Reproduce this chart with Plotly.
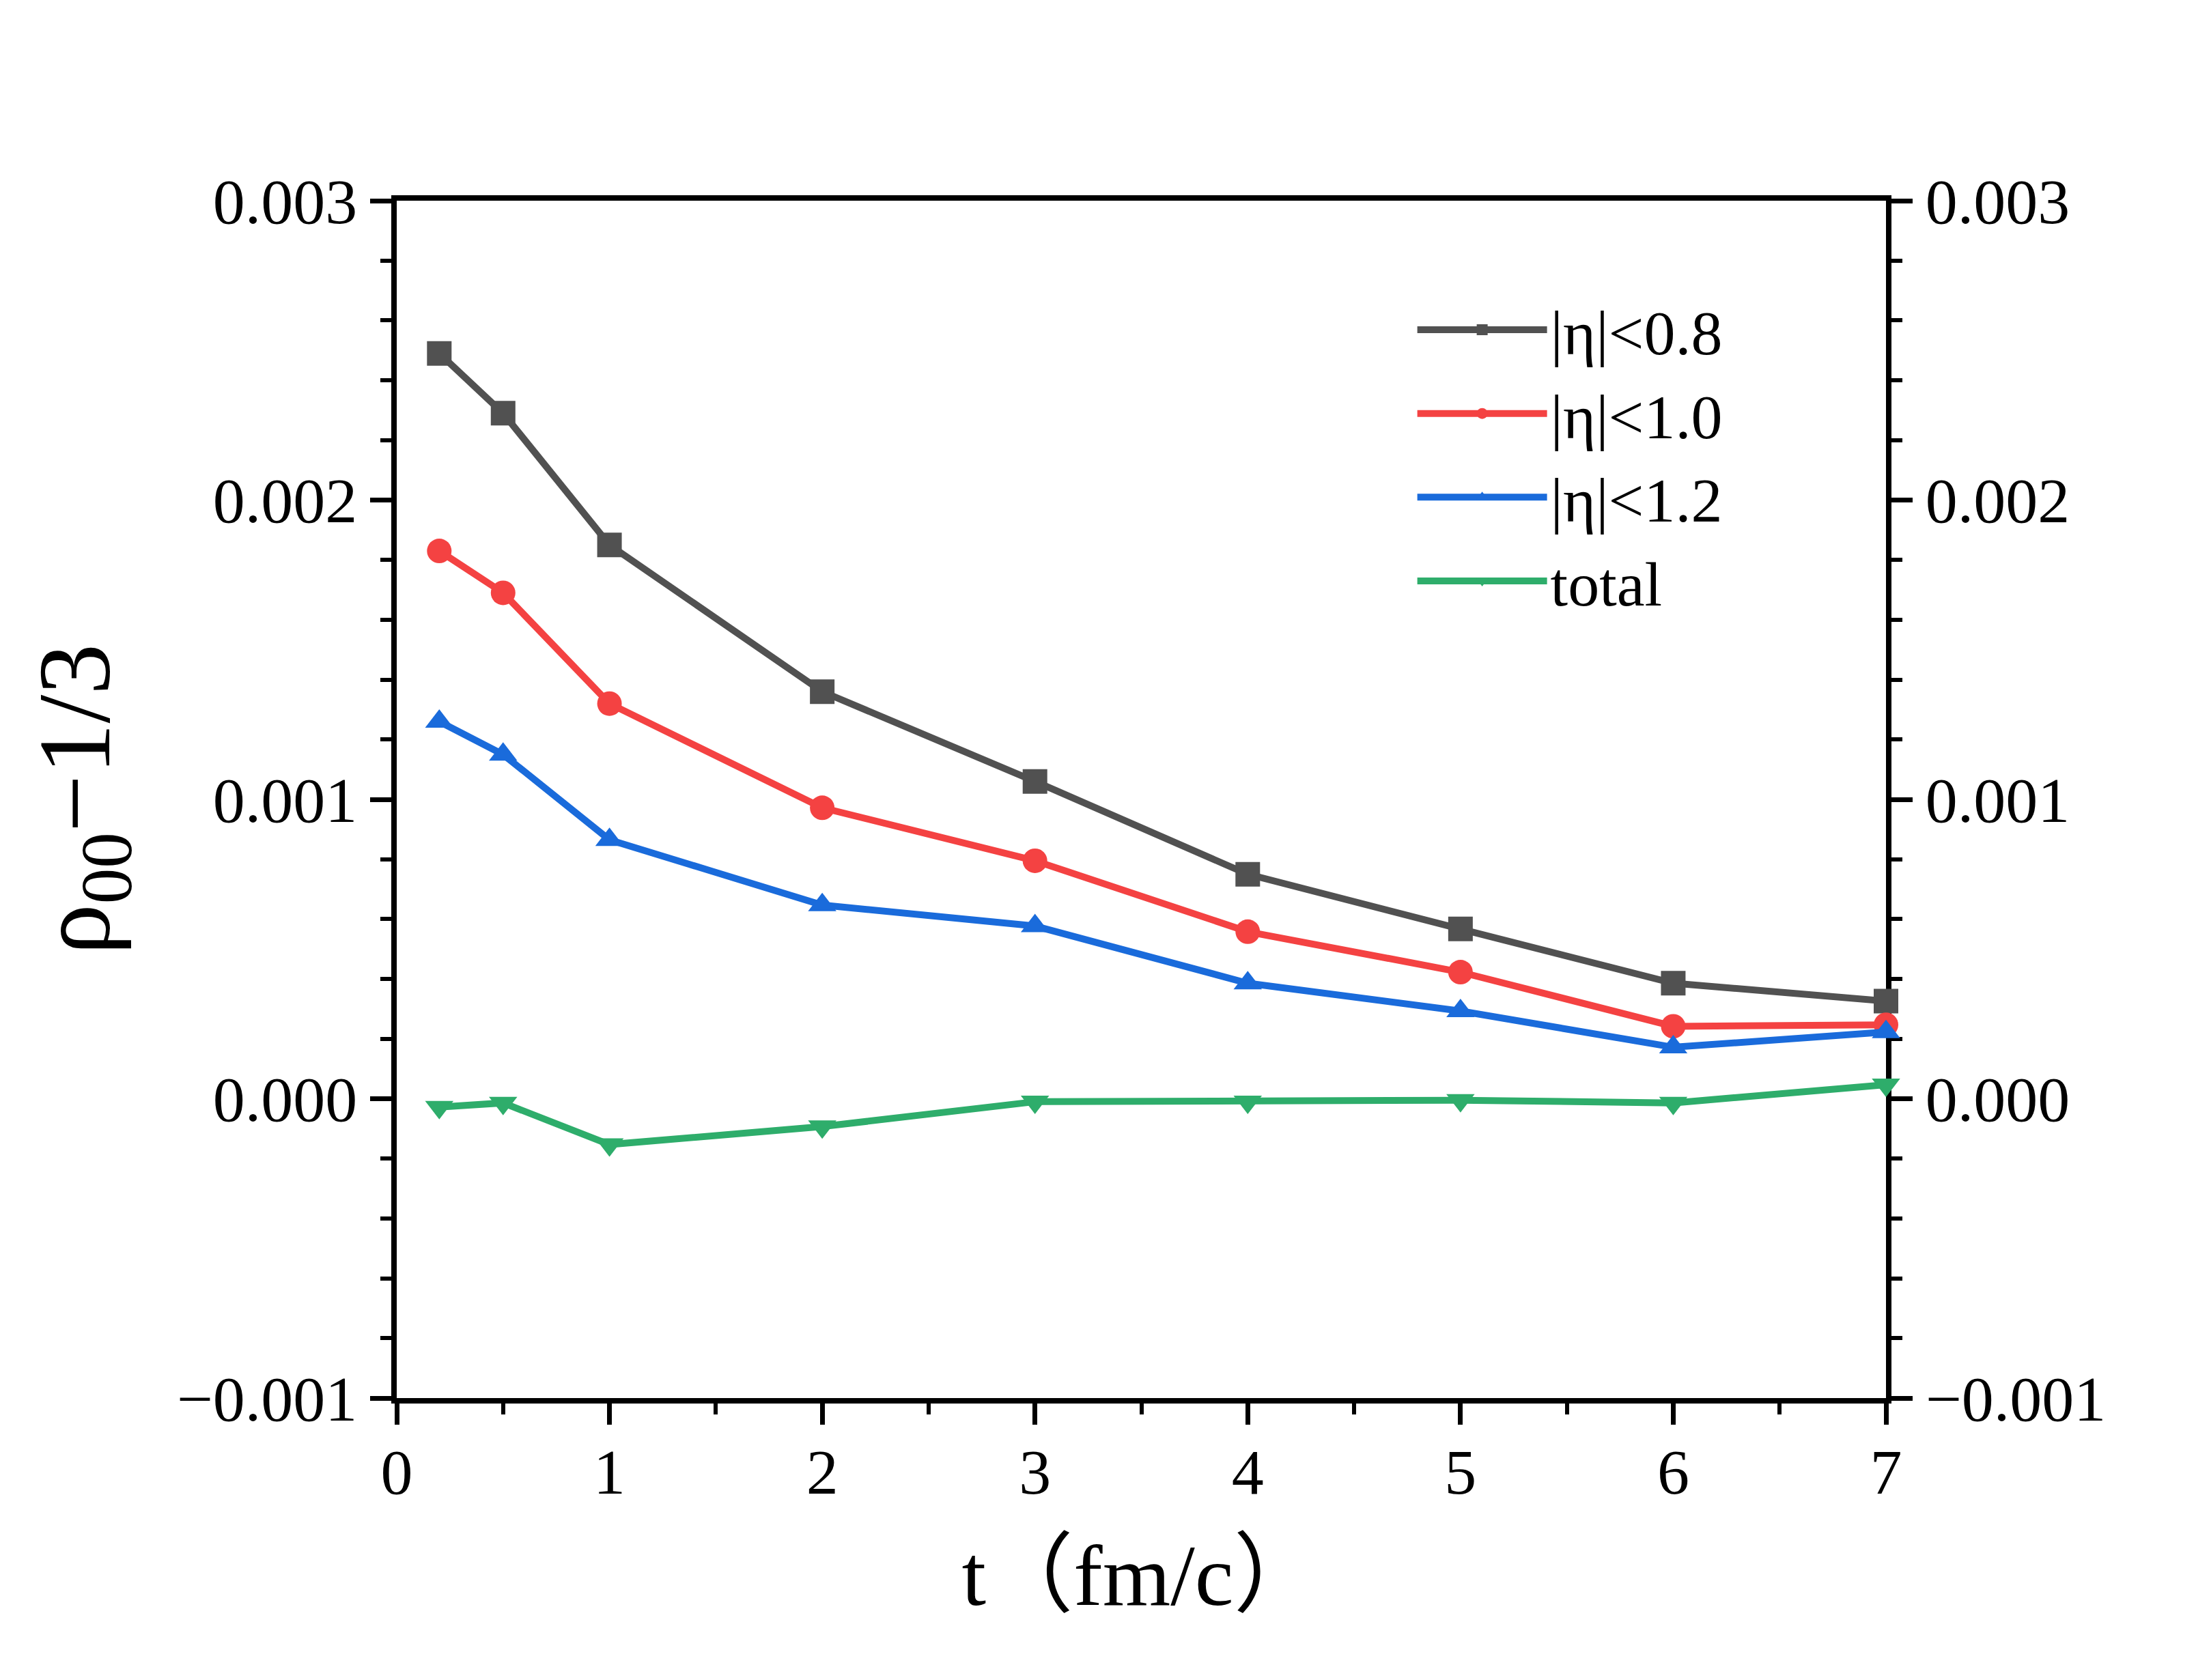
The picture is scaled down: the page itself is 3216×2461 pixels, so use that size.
import plotly.graph_objects as go

# time points (fm/c)
t = [0.2, 0.5, 1, 2, 3, 4, 5, 6, 7]

# rho00 - 1/3 for each rapidity window
eta_08 = [0.00249, 0.00229, 0.00185, 0.00136, 0.00106, 0.00075, 0.000567, 0.000386, 0.000326]
eta_10 = [0.00183, 0.00169, 0.00132, 0.000972, 0.000795, 0.000558, 0.000423, 0.000242, 0.000247]
eta_12 = [0.00126, 0.00115, 0.000865, 0.000647, 0.000577, 0.000386, 0.000293, 0.000172, 0.000223]
total = [-0.000028, -0.000014, -0.000153, -0.000093, -0.00001, -0.00001, -0.000005, -0.000014, 0.000047]

names = ["|η|<0.8", "|η|<1.0", "|η|<1.2", "total"]
colors = ["#515151", "#F44242", "#1A6BDB", "#2EAD6B"]
symbols = ["square", "circle", "triangle-up", "triangle-down"]

ytick_vals = [-0.001, 0.0, 0.001, 0.002, 0.003]
ytick_text = ["−0.001", "0.000", "0.001", "0.002", "0.003"]

FONT = "Liberation Serif, Noto Sans CJK SC, serif"

fig = go.Figure()
for i, (ys, name, c, s) in enumerate(zip([eta_08, eta_10, eta_12, total], names, colors, symbols)):
    fig.add_trace(go.Scatter(
        x=t, y=ys, name=name, mode="lines+markers",
        line=dict(color=c, width=10),
        marker=dict(symbol=s, size=36, color=c),
        cliponaxis=False,
        # last series goes on the right-hand axis (same range) so that axis is drawn
        yaxis="y2" if i == 3 else "y",
    ))

axis_common = dict(
    showline=True, linecolor="black", linewidth=8,
    ticks="outside", ticklen=31, tickwidth=7, tickcolor="black",
    showgrid=False, zeroline=False,
    tickfont=dict(family=FONT, size=94, color="black"),
)
minor_y = dict(dtick=0.0002, ticks="outside", ticklen=16, tickwidth=6, tickcolor="black")

fig.update_layout(
    width=3216, height=2461,
    paper_bgcolor="white", plot_bgcolor="white",
    margin=dict(l=573, r=462, t=286, b=421),
    font=dict(family=FONT, color="black"),
    xaxis=dict(
        axis_common, range=[0, 7], tickvals=[0, 1, 2, 3, 4, 5, 6, 7],
        mirror=True, layer="below traces", ticklabelstandoff=-12,
        minor=dict(dtick=0.5, ticks="outside", ticklen=16, tickwidth=6, tickcolor="black"),
        title=dict(text="t（fm/c）", font=dict(family=FONT, size=128), standoff=58),
    ),
    yaxis=dict(
        axis_common, range=[-0.001, 0.003], tickvals=ytick_vals, ticktext=ytick_text,
        layer="below traces", minor=minor_y,
        title=dict(text="ρ<sub>00</sub>−1/3", font=dict(family=FONT, size=150), standoff=50),
    ),
    yaxis2=dict(
        axis_common, range=[-0.001, 0.003], tickvals=ytick_vals, ticktext=ytick_text,
        overlaying="y", side="right", anchor="x", layer="below traces", minor=minor_y,
    ),
    legend=dict(
        x=0.683, y=0.93, xanchor="left", yanchor="top",
        bgcolor="rgba(0,0,0,0)", itemwidth=190,
        font=dict(family=FONT, size=92, color="black"),
        tracegroupgap=0,
    ),
    showlegend=True,
)

fig.write_html("out.html")
